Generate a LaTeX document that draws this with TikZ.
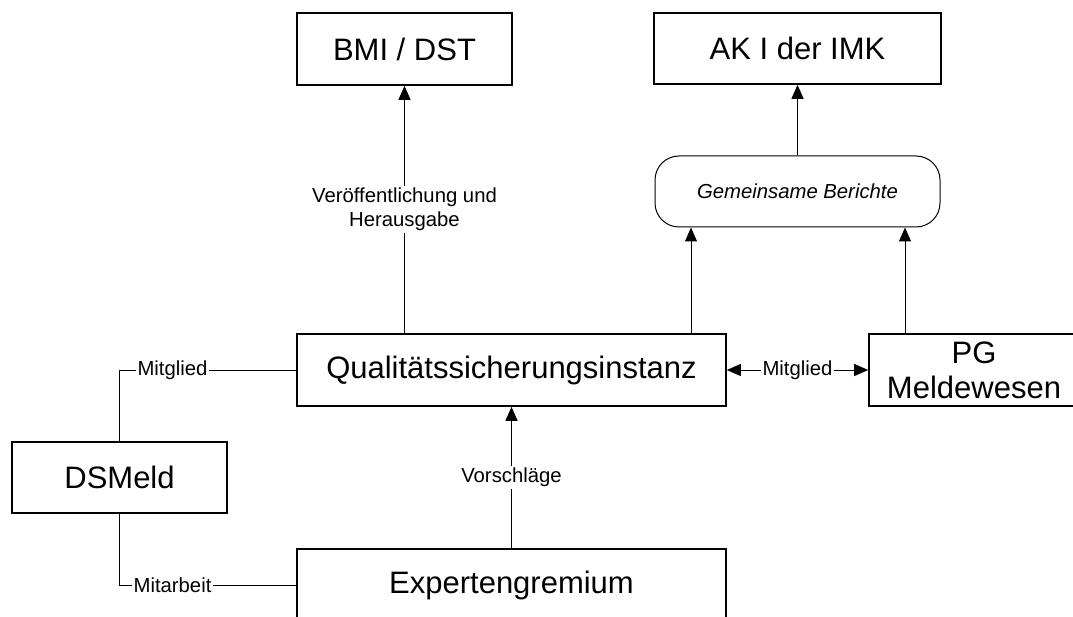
\documentclass[tikz,border=0pt]{standalone}
\usepackage{fontspec}
\setmainfont{Liberation Sans}
\usetikzlibrary{arrows.meta}

\begin{document}
\begin{tikzpicture}[x=1pt, y=-1pt, line width=1pt,
  box/.style={draw, line width=1.6pt, inner sep=0pt, align=center, font=\fontsize{31}{35}\selectfont},
  lbl/.style={fill=white, inner sep=2pt, align=center, font=\fontsize{20.3}{23.5}\selectfont},
  arr/.style={-{Triangle[length=14pt,width=12pt]}},
  dblarr/.style={{Triangle[length=14pt,width=12pt]}-{Triangle[length=14pt,width=12pt]}}]
	\useasboundingbox (0,0) rectangle (1073,617);
	\node (BMI) [box, minimum width=215pt, minimum height=72pt] at (404.5,49) {BMI / DST};
	\node (AK) [box, minimum width=287pt, minimum height=71pt] at (797.5,48.5) {AK I der IMK};
	\node (GB) [draw, rounded corners=24pt, minimum width=285pt, minimum height=71pt, inner sep=0pt,
	  font=\fontsize{20.3}{23.5}\selectfont\itshape] at (797.5,191.5) {Gemeinsame Berichte};
	\node (QSI) [box, minimum width=429pt, minimum height=72pt] at (511.5,370) {Qualitätssicherungsinstanz};
	\node (PG) [box, minimum width=210pt, minimum height=72pt] at (974,370) {PG\\Meldewesen};
	\node (DSMeld) [box, minimum width=215pt, minimum height=71pt] at (119.5,477.5) {DSMeld};
	\node (Expert) [box, minimum width=429pt, minimum height=72pt] at (511.5,585) {Expertengremium};
	\coordinate (q1) at (691,0);
	\coordinate (p1) at (905,0);

	\draw[arr] (QSI.north -| BMI.south) to node [lbl] {Veröffentlichung und\\Herausgabe} (BMI.south);
	\draw[arr] (GB.north) -- (AK.south);
	\draw[arr] (QSI.north -| q1) -- (GB.south -| q1);
	\draw[arr] (PG.north -| p1) -- (GB.south -| p1);
	\draw[dblarr] (QSI.east) to node [lbl] {Mitglied} (PG.west);
	\draw[arr] (Expert.north) to node [lbl] {Vorschläge} (QSI.south);
	\draw (DSMeld.north) |- node [lbl, pos=0.65] {Mitglied} (QSI.west);
	\draw (DSMeld.south) |- node [lbl, pos=0.65] {Mitarbeit} (Expert.west);
\end{tikzpicture}
\end{document}
